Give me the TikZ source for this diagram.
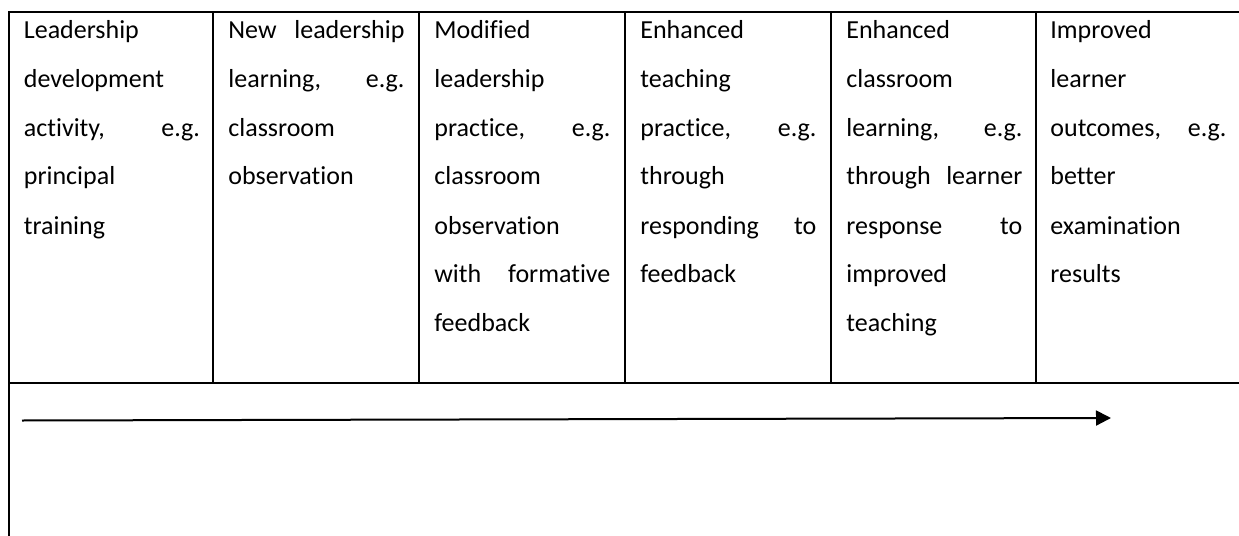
\documentclass[tikz,border=0pt]{standalone}
\usepackage{fontspec}
\setmainfont{Carlito}[Ligatures=NoCommon]
\usetikzlibrary{positioning,arrows.meta}
\newcommand\wsp{\hskip 0pt plus 1filll\relax}

\begin{document}
\begin{tikzpicture}[x=0.5pt, y=-0.5pt,
	tstyle/.style={anchor=base west, text width=88pt, inner sep=0pt, align=left,
	font=\fontsize{13pt}{24.5pt}\selectfont},
	lstyle/.style={line width=1pt, line cap=rect}
	]
	\useasboundingbox (0,0) rectangle (1239,536);
	\clip (0,0) rectangle (1239,536);
	% table lines
	\draw[lstyle] (9,12) -- (1260,12);
	\draw[lstyle] (9,383) -- (1260,383);
	\draw[lstyle] (9,12) -- (9,560);
	\draw[lstyle] (213,12) -- (213,383);
	\draw[lstyle] (419,12) -- (419,383);
	\draw[lstyle] (625,12) -- (625,383);
	\draw[lstyle] (831,12) -- (831,383);
	\draw[lstyle] (1036,12) -- (1036,383);
	\draw[lstyle] (1241,12) -- (1241,560);
	% cells
	\draw(23.5,38)node[tstyle] (activity) {Leadership\\ development\\ activity,\wsp e.g.\\ principal\\ training};
	\draw(228,38)node[tstyle] (learning) {New\wsp leadership\\ learning,\wsp e.g.\\ classroom\\ observation};
	\draw(434,38)node[tstyle] (leadprac) {Modified\\ leadership\\ practice,\wsp e.g.\\ classroom\\ observation\\ with\wsp formative\\ feedback};
	\draw(640,38)node[tstyle] (teachprac) {Enhanced\\ teaching\\ practice,\wsp e.g.\\ through\\ responding\wsp to\\ feedback};
	\draw(846,38)node[tstyle] (classlearn) {Enhanced\\ classroom\\ learning,\wsp e.g.\\ through\wsp learner\\ response\wsp to\\ improved\\ teaching};
	\draw(1050,38)node[tstyle] (outcomes) {Improved\\ learner\\ outcomes,\wsp e.g.\\ better\\ examination\\ results};
	% arrow
	\coordinate (start) at (22,420.5);
	\coordinate (end) at (1111,418);
	\draw[line width=1pt, -{Triangle[length=7.5pt, width=7.5pt]}] (start) -- (end);
\end{tikzpicture}
\end{document}
